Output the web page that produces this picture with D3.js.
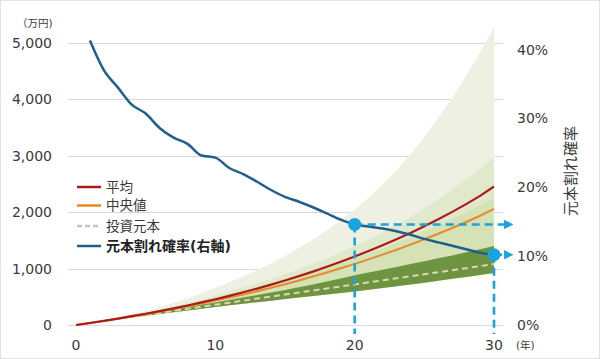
<!DOCTYPE html>
<html><head><meta charset="utf-8">
<script src="https://cdn.jsdelivr.net/npm/d3@7"></script>
<style>
html,body{margin:0;padding:0;background:#fff;}
svg{display:block;font-family:"DejaVu Sans","Noto Sans CJK JP",sans-serif;}
</style></head>
<body><svg id="c" width="600" height="359"></svg>
<script>
const years = d3.range(0, 31);
const leftTicks = [0, 1000, 2000, 3000, 4000, 5000];
const rightTicks = [0, 0.1, 0.2, 0.3, 0.4];
const xTicks = [0, 10, 20, 30];
const seriesNames = ["平均", "中央値", "投資元本", "元本割れ確率(右軸)"];
// 万円
const bandOuter = [0,40,85,135,190,250,315,390,470,560,655,755,860,975,1095,1225,1365,1515,1680,1860,2050,2260,2490,2740,3020,3330,3670,4030,4420,4830,5270];
const bandMid = [0,38,80,122,168,215,268,325,385,450,520,590,665,742,820,900,990,1085,1185,1290,1400,1520,1645,1775,1915,2070,2235,2405,2585,2770,2965];
const bandInner = [0,38,78,120,164,210,258,308,360,414,470,530,592,656,722,790,862,937,1015,1097,1182,1270,1362,1458,1558,1662,1770,1884,2002,2124,2250];
const bandDarkUpper = [0,37,75,114,153,192,232,273,315,357,400,443,486,530,575,620,670,720,772,826,880,930,980,1030,1080,1130,1182,1234,1288,1343,1400];
const bandLower = [0,35,69,102,134,165,197,228,259,290,320,348,376,404,432,460,487,514,541,568,595,626,657,688,719,750,784,818,852,886,920];
const meanVals = [0,36,74,114,156,200,246,295,346,400,457,517,580,646,715,789,866,947,1032,1122,1214,1311,1413,1520,1633,1751,1875,2006,2143,2289,2455];
const medianVals = [0,36,73,112,152,194,238,283,331,380,432,486,542,600,661,724,790,859,930,1005,1083,1164,1248,1335,1426,1520,1618,1720,1826,1937,2060];
const principal = [0,36,72,108,144,180,216,252,288,324,360,396,432,468,504,540,576,612,648,684,720,756,792,828,864,900,936,972,1008,1044,1080];
const riskYears = d3.range(1, 31);
const riskVals = [0.413,0.370,0.345,0.320,0.307,0.286,0.272,0.263,0.246,0.243,0.228,0.219,0.208,0.196,0.186,0.179,0.171,0.162,0.153,0.146,0.143,0.140,0.136,0.131,0.125,0.120,0.115,0.110,0.105,0.102];
const markYears = [20, 30];

const svg = d3.select("#c");
const x = d3.scaleLinear().domain([0, 30]).range([76, 494]);
const y = d3.scaleLinear().domain([0, 5000]).range([325, 43]);
const yr = d3.scaleLinear().domain([0, 0.4]).range([325, 49.5]);
const txt = "#3a3a3a";

svg.append("rect").attr("x",0.5).attr("y",0.5).attr("width",599).attr("height",358)
  .attr("fill","none").attr("stroke","#e3e3e3");

// gridlines
svg.append("g").selectAll("line").data(leftTicks).join("line")
  .attr("x1", 68).attr("x2", 503)
  .attr("y1", d => Math.round(y(d)) + 0.5).attr("y2", d => Math.round(y(d)) + 0.5)
  .attr("stroke", "#d9d9d9").attr("stroke-width", 1);

function band(upper, lower, color) {
  const a = d3.area().x((d, i) => x(years[i])).y0((d, i) => y(lower[i])).y1(d => y(d));
  svg.append("path").datum(upper).attr("d", a).attr("fill", color);
}
band(bandOuter, bandLower, "#eef1e2");
band(bandMid, bandLower, "#e0e9cc");
band(bandInner, bandLower, "#d4e2b6");
band(bandDarkUpper, bandLower, "#6e9442");

const line = d3.line().x((d, i) => x(years[i])).y(d => y(d));
svg.append("path").datum(principal).attr("d", line).attr("fill","none")
  .attr("stroke","#ddd6b2").attr("stroke-width",2).attr("stroke-dasharray","6,4");
svg.append("path").datum(medianVals).attr("d", line).attr("fill","none")
  .attr("stroke","#e8892c").attr("stroke-width",2);
svg.append("path").datum(meanVals).attr("d", line).attr("fill","none")
  .attr("stroke","#ae1a17").attr("stroke-width",2.2);

const rline = d3.line().x((d, i) => x(riskYears[i])).y(d => yr(d)).curve(d3.curveMonotoneX);
svg.append("path").datum(riskVals).attr("d", rline).attr("fill","none")
  .attr("stroke","#1f5f8e").attr("stroke-width",2.5);

// markers and dashed guides
const mc = "#1aa3dd";
svg.append("defs").append("marker").attr("id","arr").attr("viewBox","0 0 10 10")
  .attr("refX",1).attr("refY",5).attr("markerWidth",3.6).attr("markerHeight",3.6)
  .attr("orient","auto").append("path").attr("d","M0,0L10,5L0,10Z").attr("fill",mc);
markYears.forEach(yy => {
  const v = riskVals[riskYears.indexOf(yy)];
  const cx = x(yy), cy = yr(v);
  svg.append("line").attr("x1",cx).attr("x2",cx).attr("y1",cy).attr("y2",334)
    .attr("stroke",mc).attr("stroke-width",2.6).attr("stroke-dasharray","8,5");
  svg.append("line").attr("x1",cx).attr("x2",505).attr("y1",cy).attr("y2",cy)
    .attr("stroke",mc).attr("stroke-width",2.6).attr("stroke-dasharray","8,5")
    .attr("marker-end","url(#arr)");
  svg.append("circle").attr("cx",cx).attr("cy",cy).attr("r",6.5).attr("fill",mc);
});

// left axis labels
svg.append("g").selectAll("text").data(leftTicks).join("text")
  .attr("x", 52).attr("y", d => y(d)).attr("dy","0.36em").attr("text-anchor","end")
  .attr("font-size",14).attr("fill",txt).text(d => d3.format(",")(d));
svg.append("text").attr("x",17).attr("y",23).attr("dy","0.36em").attr("font-size",10.5)
  .attr("fill",txt).text("（万円)");
// right axis labels
svg.append("g").selectAll("text").data(rightTicks).join("text")
  .attr("x", 517).attr("y", d => yr(d)).attr("dy","0.36em")
  .attr("font-size",14).attr("fill",txt).text(d => d3.format(".0%")(d));
svg.append("text").attr("transform","translate(571,171) rotate(-90)").attr("text-anchor","middle")
  .attr("dy","0.36em").attr("font-size",15).attr("fill",txt).text("元本割れ確率");
// x axis labels
svg.append("g").selectAll("text").data(xTicks).join("text")
  .attr("x", d => x(d)).attr("y", 345).attr("dy","0.36em").attr("text-anchor","middle")
  .attr("font-size",14).attr("fill",txt).text(d => d);
svg.append("text").attr("x",516).attr("y",345).attr("dy","0.36em").attr("font-size",10.5)
  .attr("fill",txt).text("(年)");

// legend
const legY = [187, 205.5, 226, 246];
const legColor = ["#ae1a17", "#e8892c", "#c4c4c4", "#1f5f8e"];
seriesNames.forEach((n, i) => {
  svg.append("line").attr("x1",77).attr("x2",101).attr("y1",legY[i]).attr("y2",legY[i])
    .attr("stroke",legColor[i]).attr("stroke-width",2.5)
    .attr("stroke-dasharray", i === 2 ? "5,3" : null);
  svg.append("text").attr("x",106).attr("y",legY[i]).attr("dy","0.36em")
    .attr("font-size", i === 3 ? 14 : 13.5).attr("font-weight", i === 3 ? "bold" : "normal")
    .attr("fill", i === 3 ? "#222" : txt).text(n);
});
</script></body></html>
